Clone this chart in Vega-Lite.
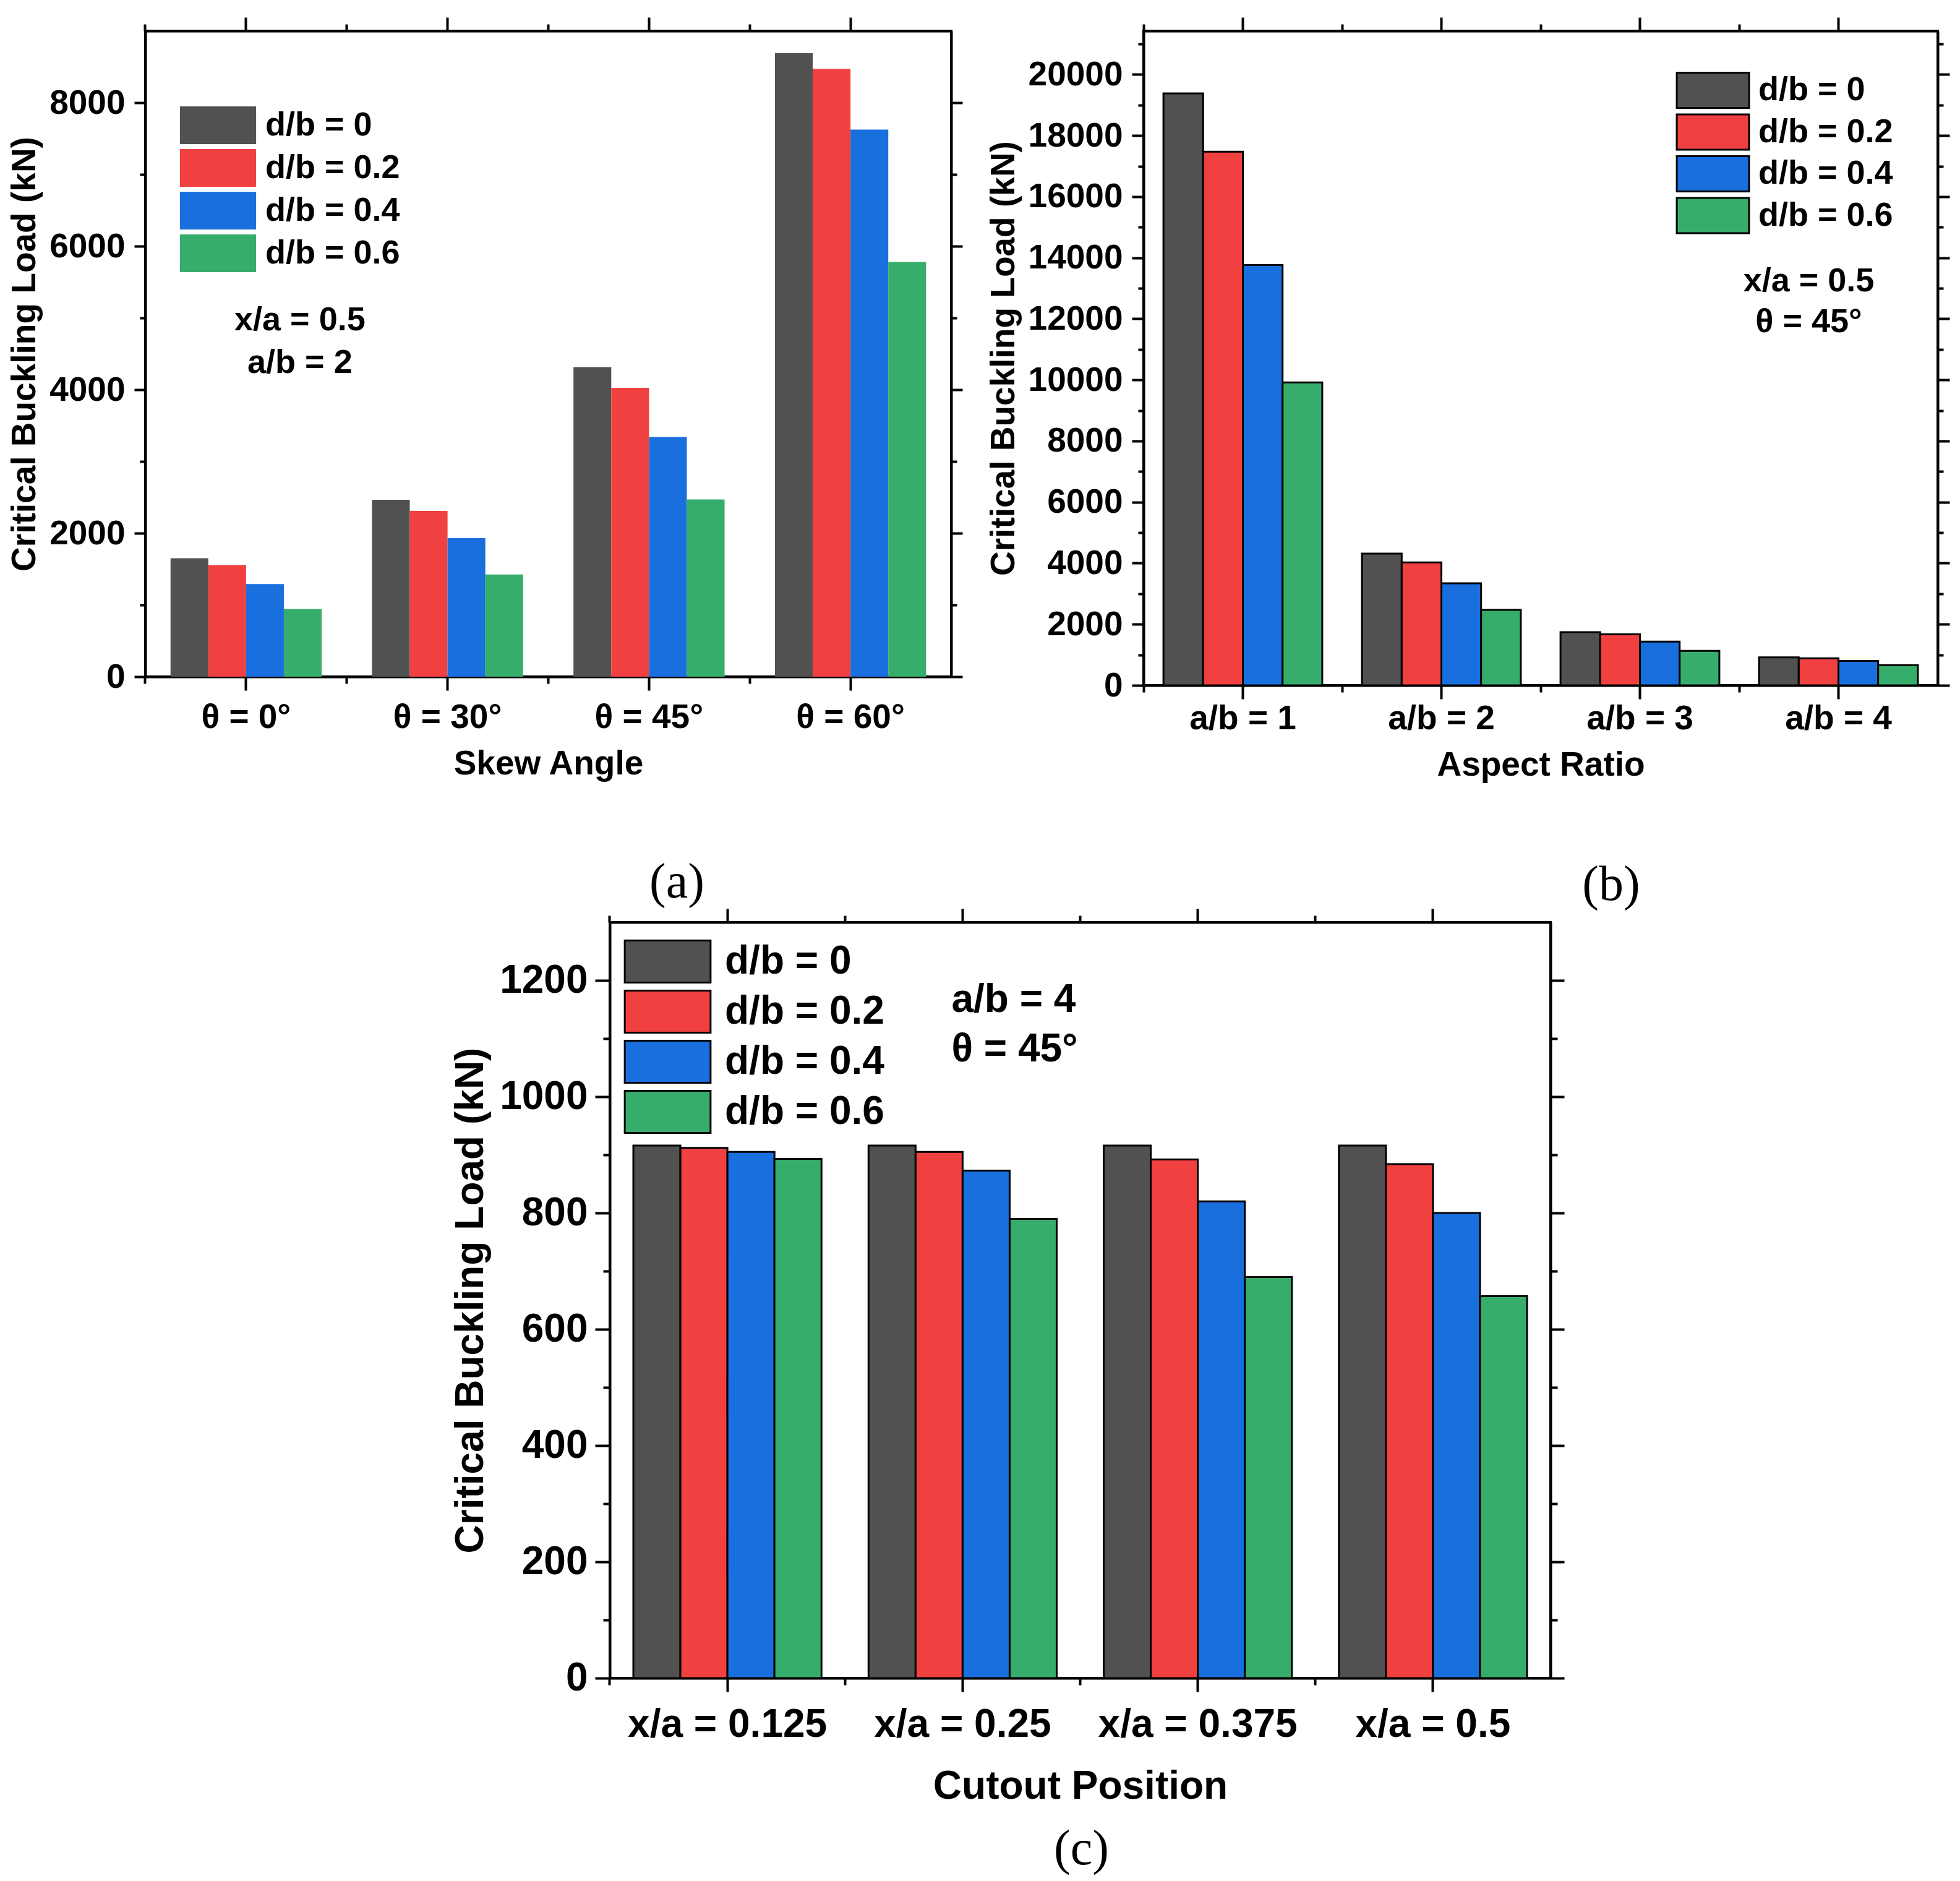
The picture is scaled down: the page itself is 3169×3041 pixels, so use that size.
{
  "$schema": "https://vega.github.io/schema/vega-lite/v6.json",
  "background": "white",
  "padding": {"left": 10, "top": 24, "right": 10, "bottom": 10},
  "datasets": {
    "a": [
      {"cat": "θ = 0°", "db": "d/b = 0", "load": 1650},
      {"cat": "θ = 0°", "db": "d/b = 0.2", "load": 1555},
      {"cat": "θ = 0°", "db": "d/b = 0.4", "load": 1290},
      {"cat": "θ = 0°", "db": "d/b = 0.6", "load": 945},
      {"cat": "θ = 30°", "db": "d/b = 0", "load": 2465},
      {"cat": "θ = 30°", "db": "d/b = 0.2", "load": 2310},
      {"cat": "θ = 30°", "db": "d/b = 0.4", "load": 1930},
      {"cat": "θ = 30°", "db": "d/b = 0.6", "load": 1425},
      {"cat": "θ = 45°", "db": "d/b = 0", "load": 4315},
      {"cat": "θ = 45°", "db": "d/b = 0.2", "load": 4025},
      {"cat": "θ = 45°", "db": "d/b = 0.4", "load": 3340},
      {"cat": "θ = 45°", "db": "d/b = 0.6", "load": 2470},
      {"cat": "θ = 60°", "db": "d/b = 0", "load": 8690},
      {"cat": "θ = 60°", "db": "d/b = 0.2", "load": 8470},
      {"cat": "θ = 60°", "db": "d/b = 0.4", "load": 7625},
      {"cat": "θ = 60°", "db": "d/b = 0.6", "load": 5780}
    ],
    "b": [
      {"cat": "a/b = 1", "db": "d/b = 0", "load": 19380},
      {"cat": "a/b = 1", "db": "d/b = 0.2", "load": 17470},
      {"cat": "a/b = 1", "db": "d/b = 0.4", "load": 13760},
      {"cat": "a/b = 1", "db": "d/b = 0.6", "load": 9920},
      {"cat": "a/b = 2", "db": "d/b = 0", "load": 4315},
      {"cat": "a/b = 2", "db": "d/b = 0.2", "load": 4025},
      {"cat": "a/b = 2", "db": "d/b = 0.4", "load": 3340},
      {"cat": "a/b = 2", "db": "d/b = 0.6", "load": 2470},
      {"cat": "a/b = 3", "db": "d/b = 0", "load": 1740},
      {"cat": "a/b = 3", "db": "d/b = 0.2", "load": 1670},
      {"cat": "a/b = 3", "db": "d/b = 0.4", "load": 1435},
      {"cat": "a/b = 3", "db": "d/b = 0.6", "load": 1130},
      {"cat": "a/b = 4", "db": "d/b = 0", "load": 916},
      {"cat": "a/b = 4", "db": "d/b = 0.2", "load": 884},
      {"cat": "a/b = 4", "db": "d/b = 0.4", "load": 800},
      {"cat": "a/b = 4", "db": "d/b = 0.6", "load": 657}
    ],
    "c": [
      {"cat": "x/a = 0.125", "db": "d/b = 0", "load": 916},
      {"cat": "x/a = 0.125", "db": "d/b = 0.2", "load": 912},
      {"cat": "x/a = 0.125", "db": "d/b = 0.4", "load": 905},
      {"cat": "x/a = 0.125", "db": "d/b = 0.6", "load": 893},
      {"cat": "x/a = 0.25", "db": "d/b = 0", "load": 916},
      {"cat": "x/a = 0.25", "db": "d/b = 0.2", "load": 905},
      {"cat": "x/a = 0.25", "db": "d/b = 0.4", "load": 873},
      {"cat": "x/a = 0.25", "db": "d/b = 0.6", "load": 790},
      {"cat": "x/a = 0.375", "db": "d/b = 0", "load": 916},
      {"cat": "x/a = 0.375", "db": "d/b = 0.2", "load": 892},
      {"cat": "x/a = 0.375", "db": "d/b = 0.4", "load": 820},
      {"cat": "x/a = 0.375", "db": "d/b = 0.6", "load": 690},
      {"cat": "x/a = 0.5", "db": "d/b = 0", "load": 916},
      {"cat": "x/a = 0.5", "db": "d/b = 0.2", "load": 884},
      {"cat": "x/a = 0.5", "db": "d/b = 0.4", "load": 800},
      {"cat": "x/a = 0.5", "db": "d/b = 0.6", "load": 657}
    ],
    "notesA": [
      {"cat": "θ = 0°", "load": 4828, "note": "x/a = 0.5"},
      {"cat": "θ = 0°", "load": 4233, "note": "a/b = 2"}
    ],
    "notesB": [
      {"cat": "a/b = 4", "load": 12900, "note": "x/a = 0.5"},
      {"cat": "a/b = 4", "load": 11565, "note": "θ = 45°"}
    ],
    "notesC": [
      {"cat": "x/a = 0.25", "load": 1146, "note": "a/b = 4"},
      {"cat": "x/a = 0.25", "load": 1061, "note": "θ = 45°"}
    ]
  },
  "vconcat": [
    {
      "hconcat": [
        {
          "width": 1303,
          "height": 1044,
          "data": {"name": "a"},
          "title": {"text": "(a)", "orient": "bottom", "anchor": "middle", "dx": 208, "offset": 126, "font": "Liberation Serif", "fontSize": 80, "fontWeight": "normal", "color": "black"},
          "layer": [
            {
              "mark": {"type": "bar"},
              "encoding": {
                "x": {"field": "cat", "type": "nominal", "sort": null, "scale": {"domain": ["θ = 0°", "θ = 30°", "θ = 45°", "θ = 60°"], "paddingInner": 0.25, "paddingOuter": 0.125},
                  "axis": {"orient": "bottom", "title": "Skew Angle", "labelAngle": 0, "tickSize": 22, "labelPadding": 17, "labelFontSize": 55, "titleFontSize": 55, "titlePadding": 21}},
                "y": {"field": "load", "type": "quantitative", "stack": null, "scale": {"domain": [0, 9000], "nice": false, "zero": true},
                  "axis": {"orient": "left", "values": [0, 2000, 4000, 6000, 8000], "format": "d", "tickSize": 18, "labelPadding": 15, "labelFontSize": 55, "title": "Critical Buckling Load (kN)", "titleFontSize": 55, "titlePadding": 11}},
                "xOffset": {"field": "db", "type": "nominal", "sort": null},
                "color": {"field": "db", "type": "nominal", "sort": null,
                  "scale": {"domain": ["d/b = 0", "d/b = 0.2", "d/b = 0.4", "d/b = 0.6"], "range": ["#515151", "#F14040", "#1A6FDF", "#37AD6B"]},
                  "legend": {"orient": "none", "legendX": 56, "legendY": 122, "title": null, "padding": 0, "symbolType": "M-2.02,-1H2.02V1H-2.02Z", "symbolSize": 3721, "symbolOffset": 31, "labelOffset": 46, "labelFontSize": 54, "rowPadding": 8, "symbolStrokeWidth": 0, "symbolOpacity": 1, "labelLimit": 0}}
              }
            },
            {
              "mark": {"type": "bar", "opacity": 0},
              "encoding": {
                "x": {"field": "cat", "type": "nominal", "sort": null, "scale": {"domain": ["θ = 0°", "θ = 30°", "θ = 45°", "θ = 60°"]}, "axis": {"orient": "top", "labels": false, "title": null, "tickSize": 22}},
                "y": {"field": "load", "type": "quantitative", "stack": null, "axis": {"orient": "right", "labels": false, "title": null, "values": [0, 2000, 4000, 6000, 8000], "tickSize": 18}}
              }
            },
            {
              "mark": {"type": "bar", "opacity": 0},
              "encoding": {
                "x": {"field": "cat", "type": "nominal", "sort": null, "scale": {"domain": ["θ = 0°", "θ = 30°", "θ = 45°", "θ = 60°"]}, "axis": {"orient": "bottom", "labels": false, "title": null, "tickSize": 11, "bandPosition": -0.1667, "domain": false}},
                "y": {"field": "load", "type": "quantitative", "stack": null, "axis": {"orient": "left", "labels": false, "title": null, "values": [1000, 3000, 5000, 7000], "tickSize": 9, "domain": false}}
              }
            },
            {
              "mark": {"type": "bar", "opacity": 0},
              "encoding": {
                "x": {"field": "cat", "type": "nominal", "sort": null, "scale": {"domain": ["θ = 0°", "θ = 30°", "θ = 45°", "θ = 60°"]}, "axis": {"orient": "top", "labels": false, "title": null, "tickSize": 11, "bandPosition": -0.1667, "domain": false}},
                "y": {"field": "load", "type": "quantitative", "stack": null, "axis": {"orient": "right", "labels": false, "title": null, "values": [1000, 3000, 5000, 7000], "tickSize": 9, "domain": false}}
              }
            },
            {
              "data": {"name": "notesA"},
              "mark": {"type": "text", "align": "center", "baseline": "alphabetic", "dx": 87, "fontSize": 54, "fontWeight": "bold", "font": "Liberation Sans", "color": "black"},
              "encoding": {
                "x": {"field": "cat", "type": "nominal", "sort": null, "scale": {"domain": ["θ = 0°", "θ = 30°", "θ = 45°", "θ = 60°"]}, "axis": null},
                "y": {"field": "load", "type": "quantitative", "stack": null, "axis": null},
                "text": {"field": "note"}
              }
            }
          ],
          "resolve": {"axis": {"x": "independent", "y": "independent"}}
        },
        {
          "width": 1284,
          "height": 1058,
          "data": {"name": "b"},
          "title": {"text": "(b)", "orient": "bottom", "anchor": "middle", "dx": 114, "offset": 128, "font": "Liberation Serif", "fontSize": 80, "fontWeight": "normal", "color": "black"},
          "layer": [
            {
              "mark": {"type": "bar", "stroke": "black", "strokeWidth": 3},
              "encoding": {
                "x": {"field": "cat", "type": "nominal", "sort": null, "scale": {"domain": ["a/b = 1", "a/b = 2", "a/b = 3", "a/b = 4"], "paddingInner": 0.2, "paddingOuter": 0.1},
                  "axis": {"orient": "bottom", "title": "Aspect Ratio", "labelAngle": 0, "tickSize": 22, "labelPadding": 5, "labelFontSize": 55, "titleFontSize": 55, "titlePadding": 21}},
                "y": {"field": "load", "type": "quantitative", "stack": null, "scale": {"domain": [0, 21425], "nice": false, "zero": true},
                  "axis": {"orient": "left", "values": [0, 2000, 4000, 6000, 8000, 10000, 12000, 14000, 16000, 18000, 20000], "format": "d", "tickSize": 19, "labelPadding": 15, "labelFontSize": 55, "title": "Critical Buckling Load (kN)", "titleFontSize": 55, "titlePadding": 11}},
                "xOffset": {"field": "db", "type": "nominal", "sort": null},
                "color": {"field": "db", "type": "nominal", "sort": null,
                  "scale": {"domain": ["d/b = 0", "d/b = 0.2", "d/b = 0.4", "d/b = 0.6"], "range": ["#515151", "#F14040", "#1A6FDF", "#37AD6B"]},
                  "legend": {"orient": "none", "legendX": 859, "legendY": 66, "title": null, "padding": 0, "symbolType": "M-2.05,-1H2.05V1H-2.05Z", "symbolSize": 3249, "symbolOffset": 31.5, "labelOffset": 43.5, "labelFontSize": 54, "rowPadding": -2.5, "symbolStrokeColor": "black", "symbolStrokeWidth": 3, "symbolOpacity": 1, "labelLimit": 0}}
              }
            },
            {
              "mark": {"type": "bar", "opacity": 0},
              "encoding": {
                "x": {"field": "cat", "type": "nominal", "sort": null, "scale": {"domain": ["a/b = 1", "a/b = 2", "a/b = 3", "a/b = 4"]}, "axis": {"orient": "top", "labels": false, "title": null, "tickSize": 22}},
                "y": {"field": "load", "type": "quantitative", "stack": null, "axis": {"orient": "right", "labels": false, "title": null, "values": [0, 2000, 4000, 6000, 8000, 10000, 12000, 14000, 16000, 18000, 20000], "tickSize": 19}}
              }
            },
            {
              "mark": {"type": "bar", "opacity": 0},
              "encoding": {
                "x": {"field": "cat", "type": "nominal", "sort": null, "scale": {"domain": ["a/b = 1", "a/b = 2", "a/b = 3", "a/b = 4"]}, "axis": {"orient": "bottom", "labels": false, "title": null, "tickSize": 11, "bandPosition": -0.125, "domain": false}},
                "y": {"field": "load", "type": "quantitative", "stack": null, "axis": {"orient": "left", "labels": false, "title": null, "values": [1000, 3000, 5000, 7000, 9000, 11000, 13000, 15000, 17000, 19000, 21000], "tickSize": 9, "domain": false}}
              }
            },
            {
              "mark": {"type": "bar", "opacity": 0},
              "encoding": {
                "x": {"field": "cat", "type": "nominal", "sort": null, "scale": {"domain": ["a/b = 1", "a/b = 2", "a/b = 3", "a/b = 4"]}, "axis": {"orient": "top", "labels": false, "title": null, "tickSize": 11, "bandPosition": -0.125, "domain": false}},
                "y": {"field": "load", "type": "quantitative", "stack": null, "axis": {"orient": "right", "labels": false, "title": null, "values": [1000, 3000, 5000, 7000, 9000, 11000, 13000, 15000, 17000, 19000, 21000], "tickSize": 9, "domain": false}}
              }
            },
            {
              "data": {"name": "notesB"},
              "mark": {"type": "text", "align": "center", "baseline": "alphabetic", "dx": -48, "fontSize": 54, "fontWeight": "bold", "font": "Liberation Sans", "color": "black"},
              "encoding": {
                "x": {"field": "cat", "type": "nominal", "sort": null, "scale": {"domain": ["a/b = 1", "a/b = 2", "a/b = 3", "a/b = 4"]}, "axis": null},
                "y": {"field": "load", "type": "quantitative", "stack": null, "axis": null},
                "text": {"field": "note"}
              }
            }
          ],
          "resolve": {"axis": {"x": "independent", "y": "independent"}}
        }
      ],
      "spacing": 33,
      "resolve": {"scale": {"color": "independent", "x": "independent", "y": "independent", "xOffset": "independent"}, "legend": {"color": "independent"}}
    },
    {
      "hconcat": [
        {
          "width": 490,
          "height": 20,
          "data": {"values": [{}]},
          "mark": {"type": "rule", "opacity": 0},
          "encoding": {},
          "view": {"stroke": "white", "strokeWidth": 4, "fill": "white"}
        },
        {
          "width": 1521,
          "height": 1222,
          "data": {"name": "c"},
          "title": {"text": "(c)", "orient": "bottom", "anchor": "middle", "dx": 2, "offset": 31, "font": "Liberation Serif", "fontSize": 80, "fontWeight": "normal", "color": "black"},
          "layer": [
            {
              "mark": {"type": "bar", "stroke": "black", "strokeWidth": 3},
              "encoding": {
                "x": {"field": "cat", "type": "nominal", "sort": null, "scale": {"domain": ["x/a = 0.125", "x/a = 0.25", "x/a = 0.375", "x/a = 0.5"], "paddingInner": 0.2, "paddingOuter": 0.1},
                  "axis": {"orient": "bottom", "title": "Cutout Position", "labelAngle": 0, "tickSize": 22, "labelPadding": 21, "labelFontSize": 64, "titleFontSize": 64, "titlePadding": 36}},
                "y": {"field": "load", "type": "quantitative", "stack": null, "scale": {"domain": [0, 1300], "nice": false, "zero": true},
                  "axis": {"orient": "left", "values": [0, 200, 400, 600, 800, 1000, 1200], "format": "d", "tickSize": 24, "labelPadding": 12, "labelFontSize": 64, "title": "Critical Buckling Load (kN)", "titleFontSize": 64, "titlePadding": 14}},
                "xOffset": {"field": "db", "type": "nominal", "sort": null},
                "color": {"field": "db", "type": "nominal", "sort": null,
                  "scale": {"domain": ["d/b = 0", "d/b = 0.2", "d/b = 0.4", "d/b = 0.6"], "range": ["#515151", "#F14040", "#1A6FDF", "#37AD6B"]},
                  "legend": {"orient": "none", "legendX": 21, "legendY": 28, "title": null, "padding": 0, "symbolType": "M-2.04,-1H2.04V1H-2.04Z", "symbolSize": 4624, "symbolOffset": 37, "labelOffset": 57, "labelFontSize": 64, "rowPadding": 0, "symbolStrokeColor": "black", "symbolStrokeWidth": 3, "symbolOpacity": 1, "labelLimit": 0}}
              }
            },
            {
              "mark": {"type": "bar", "opacity": 0},
              "encoding": {
                "x": {"field": "cat", "type": "nominal", "sort": null, "scale": {"domain": ["x/a = 0.125", "x/a = 0.25", "x/a = 0.375", "x/a = 0.5"]}, "axis": {"orient": "top", "labels": false, "title": null, "tickSize": 22}},
                "y": {"field": "load", "type": "quantitative", "stack": null, "axis": {"orient": "right", "labels": false, "title": null, "values": [0, 200, 400, 600, 800, 1000, 1200], "tickSize": 22}}
              }
            },
            {
              "mark": {"type": "bar", "opacity": 0},
              "encoding": {
                "x": {"field": "cat", "type": "nominal", "sort": null, "scale": {"domain": ["x/a = 0.125", "x/a = 0.25", "x/a = 0.375", "x/a = 0.5"]}, "axis": {"orient": "bottom", "labels": false, "title": null, "tickSize": 11, "bandPosition": -0.125, "domain": false}},
                "y": {"field": "load", "type": "quantitative", "stack": null, "axis": {"orient": "left", "labels": false, "title": null, "values": [100, 300, 500, 700, 900, 1100], "tickSize": 11, "domain": false}}
              }
            },
            {
              "mark": {"type": "bar", "opacity": 0},
              "encoding": {
                "x": {"field": "cat", "type": "nominal", "sort": null, "scale": {"domain": ["x/a = 0.125", "x/a = 0.25", "x/a = 0.375", "x/a = 0.5"]}, "axis": {"orient": "top", "labels": false, "title": null, "tickSize": 11, "bandPosition": -0.125, "domain": false}},
                "y": {"field": "load", "type": "quantitative", "stack": null, "axis": {"orient": "right", "labels": false, "title": null, "values": [100, 300, 500, 700, 900, 1100], "tickSize": 11, "domain": false}}
              }
            },
            {
              "data": {"name": "notesC"},
              "mark": {"type": "text", "align": "left", "baseline": "alphabetic", "dx": -18, "fontSize": 64, "fontWeight": "bold", "font": "Liberation Sans", "color": "black"},
              "encoding": {
                "x": {"field": "cat", "type": "nominal", "sort": null, "scale": {"domain": ["x/a = 0.125", "x/a = 0.25", "x/a = 0.375", "x/a = 0.5"]}, "axis": null},
                "y": {"field": "load", "type": "quantitative", "stack": null, "axis": null},
                "text": {"field": "note"}
              }
            }
          ],
          "resolve": {"axis": {"x": "independent", "y": "independent"}}
        }
      ],
      "spacing": 0,
      "resolve": {"scale": {"color": "independent", "x": "independent", "y": "independent", "xOffset": "independent"}, "legend": {"color": "independent"}}
    }
  ],
  "spacing": -8,
  "resolve": {"scale": {"color": "independent", "x": "independent", "y": "independent", "xOffset": "independent"}, "legend": {"color": "independent"}},
  "config": {
    "view": {"stroke": "black", "strokeWidth": 4},
    "font": "Liberation Sans",
    "axis": {"domainColor": "black", "domainWidth": 4, "tickColor": "black", "tickWidth": 4, "labelColor": "black", "titleColor": "black", "labelFont": "Liberation Sans", "titleFont": "Liberation Sans", "labelFontWeight": "bold", "titleFontWeight": "bold", "grid": false, "labelOverlap": false, "labelFlush": false, "labelLimit": 0},
    "legend": {"labelFont": "Liberation Sans", "labelFontWeight": "bold", "labelColor": "black", "labelLimit": 0},
    "title": {"font": "Liberation Serif", "fontWeight": "normal", "color": "black"}
  }
}
